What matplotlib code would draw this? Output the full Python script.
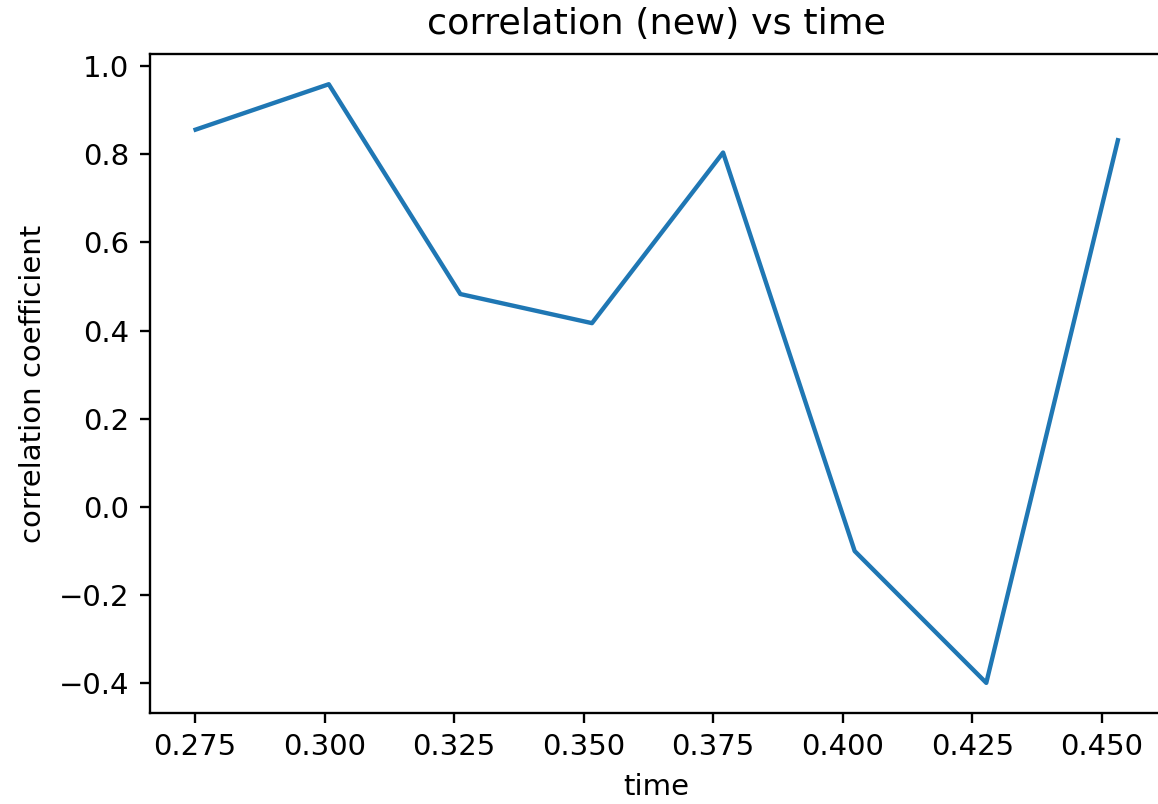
import matplotlib
matplotlib.use("Agg")
import matplotlib.pyplot as plt

# values
time = [0.2751, 0.3008, 0.3262, 0.3516, 0.3769, 0.4023, 0.4277, 0.4531]
corr = [0.856, 0.959, 0.483, 0.417, 0.804, -0.100, -0.399, 0.832]

DPI = 210
W, H = 1158, 804

fig = plt.figure(figsize=(W / DPI, H / DPI), dpi=DPI)
# axes runs a little past the right edge, like the cropped original
left, right = 149.5 / W, 1164.0 / W
bottom, top = (H - 712.8) / H, (H - 54.3) / H
ax = fig.add_axes([left, bottom, right - left, top - bottom])

ax.plot(time, corr)
ax.set_xticks([0.275, 0.300, 0.325, 0.350, 0.375, 0.400, 0.425, 0.450])
ax.set_title("correlation (new) vs time", fontsize=12.5, pad=7)
ax.set_xlabel("time")
ax.set_ylabel("correlation coefficient")

fig.savefig("out.png", dpi=DPI)
